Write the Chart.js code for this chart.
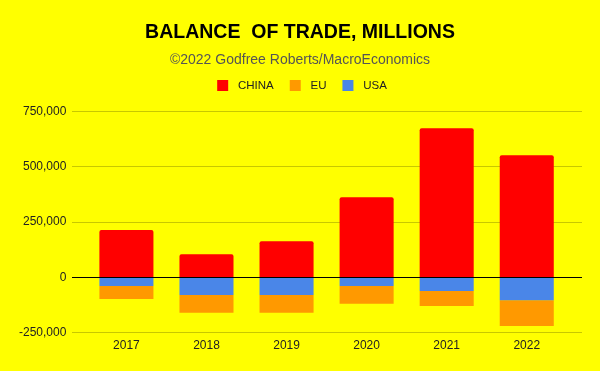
<!DOCTYPE html>
<html>
<head>
<meta charset="utf-8">
<script src="https://cdn.jsdelivr.net/npm/chart.js@4"></script>
<style>
html,body{margin:0;padding:0;background:#ffff00;}
#wrap{width:600px;height:371px;}
</style>
</head>
<body>
<div id="wrap"><canvas id="c" width="600" height="371"></canvas></div>
<script>
const years = [2017, 2018, 2019, 2020, 2021, 2022];
const china = [214000, 105000, 164000, 363000, 675000, 553000];
const eu = [-59000, -80000, -80000, -80000, -68000, -117000];
const usa = [-39000, -80000, -80000, -39000, -62000, -103000];
const yTicks = [-250000, 0, 250000, 500000, 750000];
const seriesNames = ['CHINA', 'EU', 'USA'];
const seriesColors = ['#ff0000', '#ff9900', '#4a86e8'];

const pts = arr => years.map((yr, i) => ({x: yr, y: arr[i]}));

// legend swatch: 11x11 square inside a 19px-wide image (extra room on both sides)
const SW_W = 19, SW_OFF = 4, SW_SIZE = 11;
function swatch(color) {
  const c = document.createElement('canvas');
  c.width = SW_W; c.height = SW_SIZE;
  const g = c.getContext('2d');
  g.fillStyle = color;
  g.fillRect(SW_OFF, 0, SW_SIZE, SW_SIZE);
  return c;
}
const swatches = seriesColors.map(swatch);

const bgPlugin = {
  id: 'bg',
  beforeDraw(chart) {
    const ctx = chart.ctx;
    ctx.save();
    ctx.fillStyle = '#ffff00';
    ctx.fillRect(0, 0, chart.width, chart.height);
    ctx.restore();
  }
};
const legendGap = {
  id: 'legendGap',
  afterInit(chart) {
    const lg = chart.legend;
    if (!lg) return;
    const f = lg.fit.bind(lg);
    lg.fit = function () { f(); this.height += 10; };
  }
};

new Chart(document.getElementById('c'), {
  type: 'bar',
  data: {
    datasets: [
      {label: seriesNames[0], data: pts(china), backgroundColor: seriesColors[0], order: 0, borderRadius: {topLeft: 2, topRight: 2}, borderSkipped: false},
      {label: seriesNames[1], data: pts(eu), backgroundColor: seriesColors[1], order: 2},
      {label: seriesNames[2], data: pts(usa), backgroundColor: seriesColors[2], order: 1}
    ]
  },
  options: {
    responsive: false,
    animation: false,
    devicePixelRatio: 1,
    grouped: false,
    barPercentage: 0.675,
    categoryPercentage: 1,
    layout: {padding: {left: 18, right: 18, top: 10, bottom: 13}},
    plugins: {
      title: {
        display: true,
        text: 'BALANCE  OF TRADE, MILLIONS',
        color: '#000000',
        font: {family: 'Liberation Sans', size: 19.5, weight: 'bold'},
        padding: {top: 11, bottom: 7}
      },
      subtitle: {
        display: true,
        text: '\u00a92022 Godfree Roberts/MacroEconomics',
        color: '#555555',
        font: {family: 'Liberation Sans', size: 14},
        padding: {top: 0, bottom: 0}
      },
      legend: {
        position: 'top',
        labels: {
          usePointStyle: true,
          pointStyleWidth: SW_W,
          boxHeight: SW_SIZE,
          color: '#222222',
          font: {family: 'Liberation Sans', size: 11.5},
          padding: 12,
          generateLabels(chart) {
            const items = Chart.defaults.plugins.legend.labels.generateLabels(chart);
            items.sort((a, b) => a.datasetIndex - b.datasetIndex);
            items.forEach(it => { it.pointStyle = swatches[it.datasetIndex]; it.lineWidth = 0; });
            return items;
          }
        }
      },
      tooltip: {enabled: false}
    },
    scales: {
      x: {
        type: 'linear',
        offset: false,
        min: 2016.325,
        max: 2022.69,
        grid: {display: false, drawTicks: false},
        border: {display: false},
        ticks: {
          stepSize: 1,
          includeBounds: false,
          color: '#222222',
          font: {family: 'Liberation Sans', size: 12},
          callback: v => Number.isInteger(v) ? String(v) : '',
          padding: 5.5
        }
      },
      y: {
        stacked: true,
        min: -250000,
        max: 750000,
        afterBuildTicks: s => { s.ticks = yTicks.map(v => ({value: v})); },
        afterFit: s => { s.width -= 5; },
        grid: {
          color: ctx => ctx.tick && ctx.tick.value === 0 ? '#000000' : '#c8c800',
          lineWidth: 1,
          drawTicks: false
        },
        border: {display: false},
        ticks: {
          color: '#222222',
          font: {family: 'Liberation Sans', size: 12},
          padding: 6,
          callback: v => v.toLocaleString('en-US')
        }
      }
    }
  },
  plugins: [bgPlugin, legendGap]
});
</script>
</body>
</html>
